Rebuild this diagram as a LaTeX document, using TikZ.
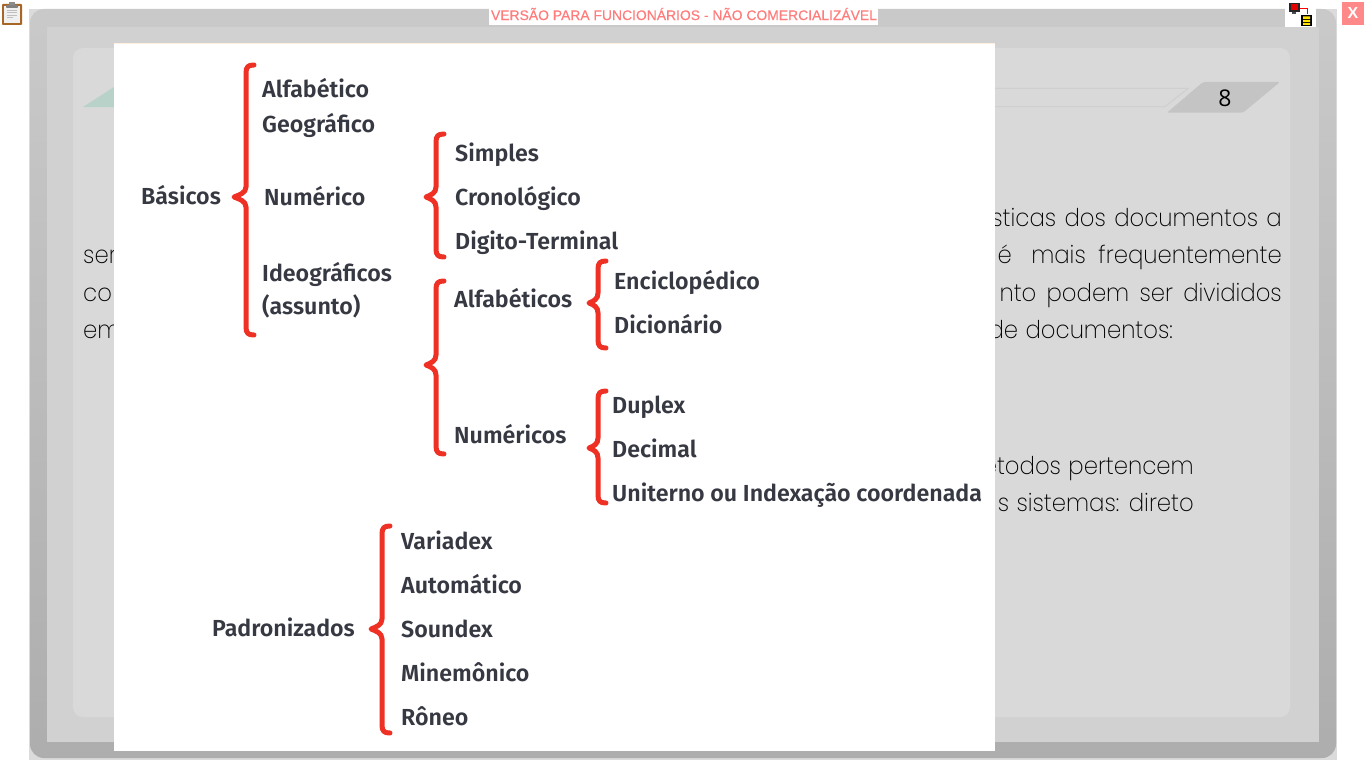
\documentclass[tikz,border=0pt]{standalone}
\usepackage{fontspec}
\setmainfont{Liberation Sans}
\newfontfamily\bodyfont[UprightFont=* ExtraLight]{Poppins}
\newfontfamily\diagfont[UprightFont=* SemiBold]{Fira Sans}
\newfontfamily\numfont{Open Sans}
\newfontfamily\bannerfont[FakeBold=0.25]{Liberation Sans}
\definecolor{bracered}{HTML}{EE3124}
\definecolor{ink}{HTML}{363842}
\definecolor{bodyink}{HTML}{000000}
\definecolor{flag}{HTML}{FF7C7C}
\definecolor{tealtri}{HTML}{B9D2C9}
\tikzset{
  diag/.style={inner sep=0pt,anchor=base west,text=ink,font=\diagfont\fontsize{23.2}{26}\selectfont},
  bodytext/.style={inner sep=0pt,text=bodyink,font=\bodyfont\fontsize{24.5}{28}\selectfont,xscale=.93,anchor=base east},
  bodyleft/.style={bodytext,anchor=base west},
  brace/.style={draw=bracered,line width=5pt,line cap=round,line join=round,fill=none}
}
\newcommand{\curly}[5]{% x, top, mid, bottom, tip
  \draw[brace] (#1+8,#2) .. controls (#1+2,#2) and (#1,#2+2) .. (#1,#2+8)
    -- (#1,#3-10) .. controls (#1,#3-4) and (#5+5,#3-2) .. (#5,#3)
    .. controls (#5+5,#3+2) and (#1,#3+4) .. (#1,#3+10)
    -- (#1,#4-8) .. controls (#1,#4-2) and (#1+2,#4) .. (#1+8,#4);}
\begin{document}
\begin{tikzpicture}[x=1pt,y=-1pt]
\useasboundingbox (0,0) rectangle (1366,768);
\fill[white] (0,0) rectangle (1366,768);
% frame
\fill[gray!28!white] (29,9) rectangle (1337,760);
\shade[top color=black!21,bottom color=black!32,rounded corners=14pt] (30,9) rectangle (1336,758);
\fill[black!18] (47,27) rectangle (1319,742);
\fill[black!15,rounded corners=10pt] (73,48) rectangle (1290,717);
% title strip
\draw[black!19,line width=1pt] (995,88.5) -- (1188,88.5) -- (1165,106.5) -- (995,106.5);
\fill[black!23,rounded corners=2pt] (1203,82) -- (1280,82) -- (1243,112.7) -- (1167,112.7) -- cycle;
\node[inner sep=0pt,font=\numfont\fontsize{23}{25}\selectfont,text=black] (pagenum) at (1225,98) {8};
\fill[tealtri] (83,107) -- (114,87) -- (114,107) -- cycle;
% body text
\node[bodytext] (r1) at (1282,226) {\spaceskip=9pt sticas dos documentos a};
\node[bodytext] (r2a) at (1282,263) {frequentemente};
\node[bodytext] (r2b) at (1086,263) {mais};
\node[bodytext] (r2c) at (1012,263) {é};
\node[bodytext] (r3) at (1282,301) {\spaceskip=11pt nto podem ser divididos};
\node[bodytext] (r4) at (1173,338) {\spaceskip=8pt de documentos:};
\node[bodytext] (r5) at (1194,474) {\spaceskip=8pt étodos pertencem};
\node[bodytext] (r6) at (1194,511) {\spaceskip=8pt s sistemas: direto};
\node[bodyleft] (l2) at (83,263) {ser};
\node[bodyleft] (l3) at (83,301) {co};
\node[bodyleft] (l4) at (83,338) {em};
% picture panel
\fill[white] (114,43) rectangle (995,751);
\fill[orange!12] (114,43) rectangle (995,44.5);
% top bar
\fill[white] (489,7) rectangle (878,25);
\node[inner sep=0pt,text=flag,font=\bannerfont\fontsize{13.9}{15}\selectfont] (banner) at (684,14) {VERSÃO PARA FUNCIONÁRIOS - NÃO COMERCIALIZÁVEL};
\fill[flag!90!white] (1342,2) rectangle (1364,25);
\node[inner sep=0pt,text=white,font=\bfseries\fontsize{16}{17}\selectfont] (closex) at (1353,13) {X};
% network icon
\fill[white] (1285,0) rectangle (1316,27);
\fill[black!85] (1289,3) rectangle (1300,12);
\fill[red!90!black] (1291,4.5) rectangle (1298,10);
\fill[black!70] (1292,12) rectangle (1296,14);
\draw[red,line width=.8pt] (1300,8) -- (1307,8) -- (1307,14);
\fill[black] (1301,15) rectangle (1312,26);
\fill[yellow!85!orange] (1303,16.5) rectangle (1310,18.8) (1303,19.8) rectangle (1310,22) (1303,23) rectangle (1310,25);
% clipboard icon
\fill[brown!70!orange!80!black,rounded corners=.8pt] (2,4) rectangle (22,25);
\fill[black!6] (4,6) rectangle (20,23.5);
\draw[black!25,line width=.7pt] (7,10) -- (17,10) (7,12.5) -- (17,12.5) (7,15) -- (17,15) (7,17.5) -- (13,17.5);
\fill[black!50,rounded corners=.8pt] (6,5) rectangle (18,8);
\fill[black!45] (9,2) rectangle (15,5);
% braces
\curly{246}{65}{197}{335}{234}
\curly{436}{134}{197}{257}{426}
\curly{436}{281}{365}{454}{426}
\curly{598}{261}{303}{348}{589}
\curly{598}{391}{448}{503}{589}
\curly{382}{526}{629}{733}{371}
% labels
\node[diag] (basicos) at (141,204) {Básicos};
\node[diag] (alfab) at (262,97) {Alfabético};
\node[diag] (geogr) at (262,132) {Geográfico};
\node[diag] (numer) at (264,205) {Numérico};
\node[diag] (ideog) at (262,281) {Ideográficos};
\node[diag] (assun) at (262,314) {(assunto)};
\node[diag] (simpl) at (455,161) {Simples};
\node[diag] (crono) at (455,205) {Cronológico};
\node[diag] (digit) at (455,249) {Digito-Terminal};
\node[diag] (alfabs) at (454,307) {Alfabéticos};
\node[diag] (numers) at (454,443) {Numéricos};
\node[diag] (encic) at (614,289) {Enciclopédico};
\node[diag] (dicio) at (614,333) {Dicionário};
\node[diag] (duple) at (612,413) {Duplex};
\node[diag] (decim) at (612,457) {Decimal};
\node[diag] (unite) at (612,501) {Uniterno ou Indexação coordenada};
\node[diag] (padro) at (212,636) {Padronizados};
\node[diag] (varia) at (401,549) {Variadex};
\node[diag] (autom) at (401,593) {Automático};
\node[diag] (sound) at (401,637) {Soundex};
\node[diag] (minem) at (401,681) {Minemônico};
\node[diag] (roneo) at (401,725) {Rôneo};
\end{tikzpicture}
\end{document}
